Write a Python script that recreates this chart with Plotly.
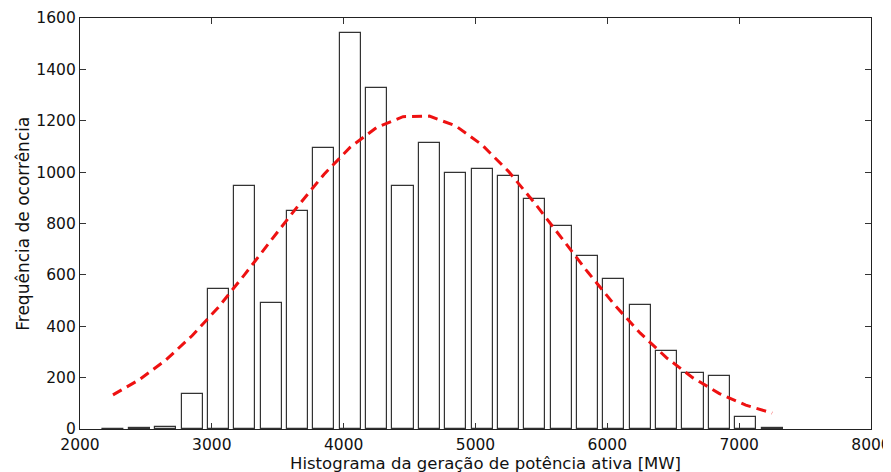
import plotly.graph_objects as go

# Bin centres (MW) and histogram counts
bin_centers = [2250, 2450, 2650, 2850, 3050, 3250, 3450, 3650, 3850, 4050, 4250, 4450, 4650,
               4850, 5050, 5250, 5450, 5650, 5850, 6050, 6250, 6450, 6650, 6850, 7050, 7250]
counts = [0, 4, 6, 136, 545, 945, 492, 849, 1094, 1543, 1329, 945, 1112,
          995, 1012, 986, 894, 792, 673, 585, 484, 303, 217, 207, 45, 3]
# Fitted distribution curve
fit_values = [133, 192, 268, 363, 474, 602, 735, 866, 991, 1097, 1174, 1216, 1218,
              1180, 1106, 1003, 879, 746, 612, 486, 373, 277, 199, 138, 93, 62]

x_ticks = [2000, 3000, 4000, 5000, 6000, 7000, 8000]
y_ticks = [0, 200, 400, 600, 800, 1000, 1200, 1400, 1600]

x_label = "Histograma da geração de potência ativa [MW]"
y_label = "Frequência de ocorrência"

font_family = "DejaVu Sans, Liberation Sans, Arial, sans-serif"

fig = go.Figure()
fig.add_trace(go.Bar(
    x=bin_centers, y=counts, width=160,
    marker=dict(color="white", line=dict(color="#333333", width=1.2)),
    showlegend=False,
))
fig.add_trace(go.Scatter(
    x=bin_centers, y=fit_values, mode="lines",
    line=dict(color="#ee1111", width=3, dash="10px,6px"),
    showlegend=False,
))

axis_common = dict(
    showline=True, linecolor="#222222", linewidth=1.2, mirror="allticks",
    ticks="inside", ticklen=6, tickwidth=1, tickcolor="#333333",
    showgrid=False, zeroline=False, automargin=False,
    tickfont=dict(family=font_family, size=15.5, color="#111111"),
)

# The page body adds an 8px offset, so margins are compensated accordingly
fig.update_layout(
    width=891, height=472,
    margin=dict(l=72, r=28, t=9.5, b=50.7, pad=0),
    paper_bgcolor="white", plot_bgcolor="white",
    bargap=0,
    xaxis=dict(range=[2000, 8000], tickvals=x_ticks, ticklabelstandoff=1, **axis_common),
    yaxis=dict(range=[0, 1600], tickvals=y_ticks, **axis_common),
    annotations=[
        dict(text=x_label, xref="paper", yref="paper", x=0.513, y=-0.083,
             xanchor="center", yanchor="middle", showarrow=False,
             font=dict(family=font_family, size=16.5, color="#111111")),
        dict(text=y_label, xref="paper", yref="paper", x=-0.073, y=0.5,
             xanchor="center", yanchor="middle", showarrow=False, textangle=-90,
             font=dict(family=font_family, size=17, color="#111111")),
    ],
)

fig.write_html("out.html")
